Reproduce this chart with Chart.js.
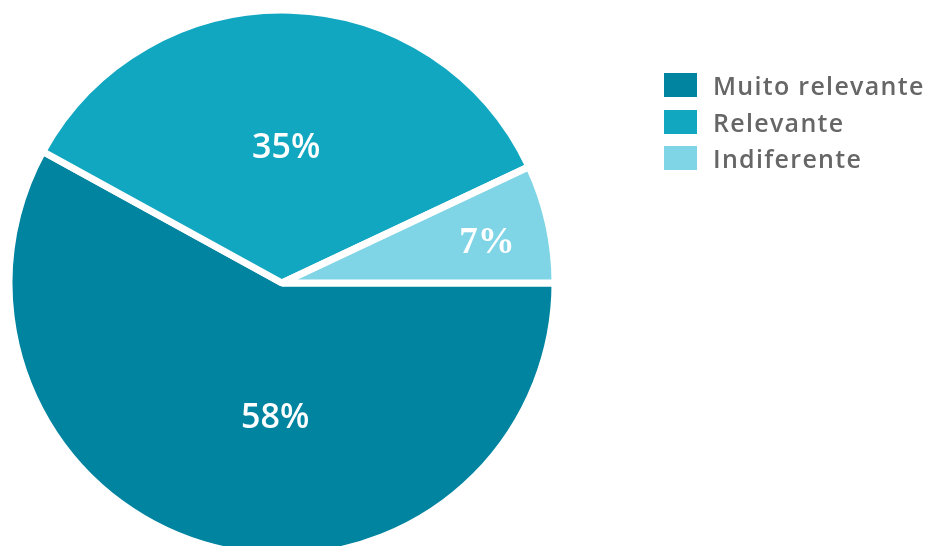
<!DOCTYPE html>
<html>
<head>
<meta charset="utf-8">
<script src="https://cdn.jsdelivr.net/npm/chart.js@4/dist/chart.umd.min.js"></script>
<style>
  html, body { margin: 0; padding: 0; background: #fff; overflow: hidden; }
  #wrap { position: relative; width: 934px; height: 546px; }
  #legend { position: absolute; left: 664px; top: 73px; font-family: "Open Sans", sans-serif; font-weight: 600; font-size: 25px; letter-spacing: 1.3px; color: #666; }
  #legend div { display: flex; align-items: center; height: 24px; margin-bottom: 12.5px; white-space: nowrap; }
  #legend span.box { display: inline-block; width: 33px; height: 24px; margin-right: 16px; }
</style>
</head>
<body>
<div id="wrap">
  <canvas id="pie" width="934" height="546"></canvas>
  <div id="legend"></div>
</div>
<script>
const categories = ['Muito relevante', 'Relevante', 'Indiferente'];
const shares = [58, 35, 7];
const colors = ['#0084a0', '#12a7c1', '#7fd4e6'];

// where each percentage sits inside its slice: fraction along the arc, fraction of radius
const labelAlong = [0.445, 0.5, 0.57];
const labelOut = [0.495, 0.495, 0.765];
const labelFonts = ['600 34px "Open Sans"', '600 34px "Open Sans"', 'bold 37px "Liberation Serif"'];

const sliceLabels = {
  id: 'sliceLabels',
  afterDatasetsDraw(chart) {
    const ctx = chart.ctx;
    const meta = chart.getDatasetMeta(0);
    ctx.save();
    ctx.fillStyle = '#fff';
    ctx.textAlign = 'center';
    ctx.textBaseline = 'middle';
    meta.data.forEach((arc, i) => {
      const p = arc.getProps(['x', 'y', 'startAngle', 'endAngle', 'outerRadius'], true);
      const a = p.startAngle + (p.endAngle - p.startAngle) * labelAlong[i];
      const r = p.outerRadius * labelOut[i];
      ctx.font = labelFonts[i];
      ctx.fillText(shares[i] + '%', p.x + Math.cos(a) * r, p.y + Math.sin(a) * r);
    });
    ctx.restore();
  }
};

const chart = new Chart(document.getElementById('pie'), {
  type: 'pie',
  data: {
    labels: categories,
    datasets: [{
      data: shares,
      backgroundColor: colors,
      borderColor: '#fff',
      borderWidth: 7,
      radius: 273
    }]
  },
  options: {
    responsive: false,
    animation: false,
    rotation: 90,
    layout: { padding: { left: 0, right: 370, top: 20, bottom: 0 } },
    plugins: {
      legend: { display: false },
      tooltip: { enabled: false }
    }
  },
  plugins: [sliceLabels]
});

const legend = document.getElementById('legend');
chart.data.labels.forEach((name, i) => {
  const row = document.createElement('div');
  const box = document.createElement('span');
  box.className = 'box';
  box.style.background = chart.data.datasets[0].backgroundColor[i];
  row.appendChild(box);
  row.appendChild(document.createTextNode(name));
  legend.appendChild(row);
});
</script>
</body>
</html>
